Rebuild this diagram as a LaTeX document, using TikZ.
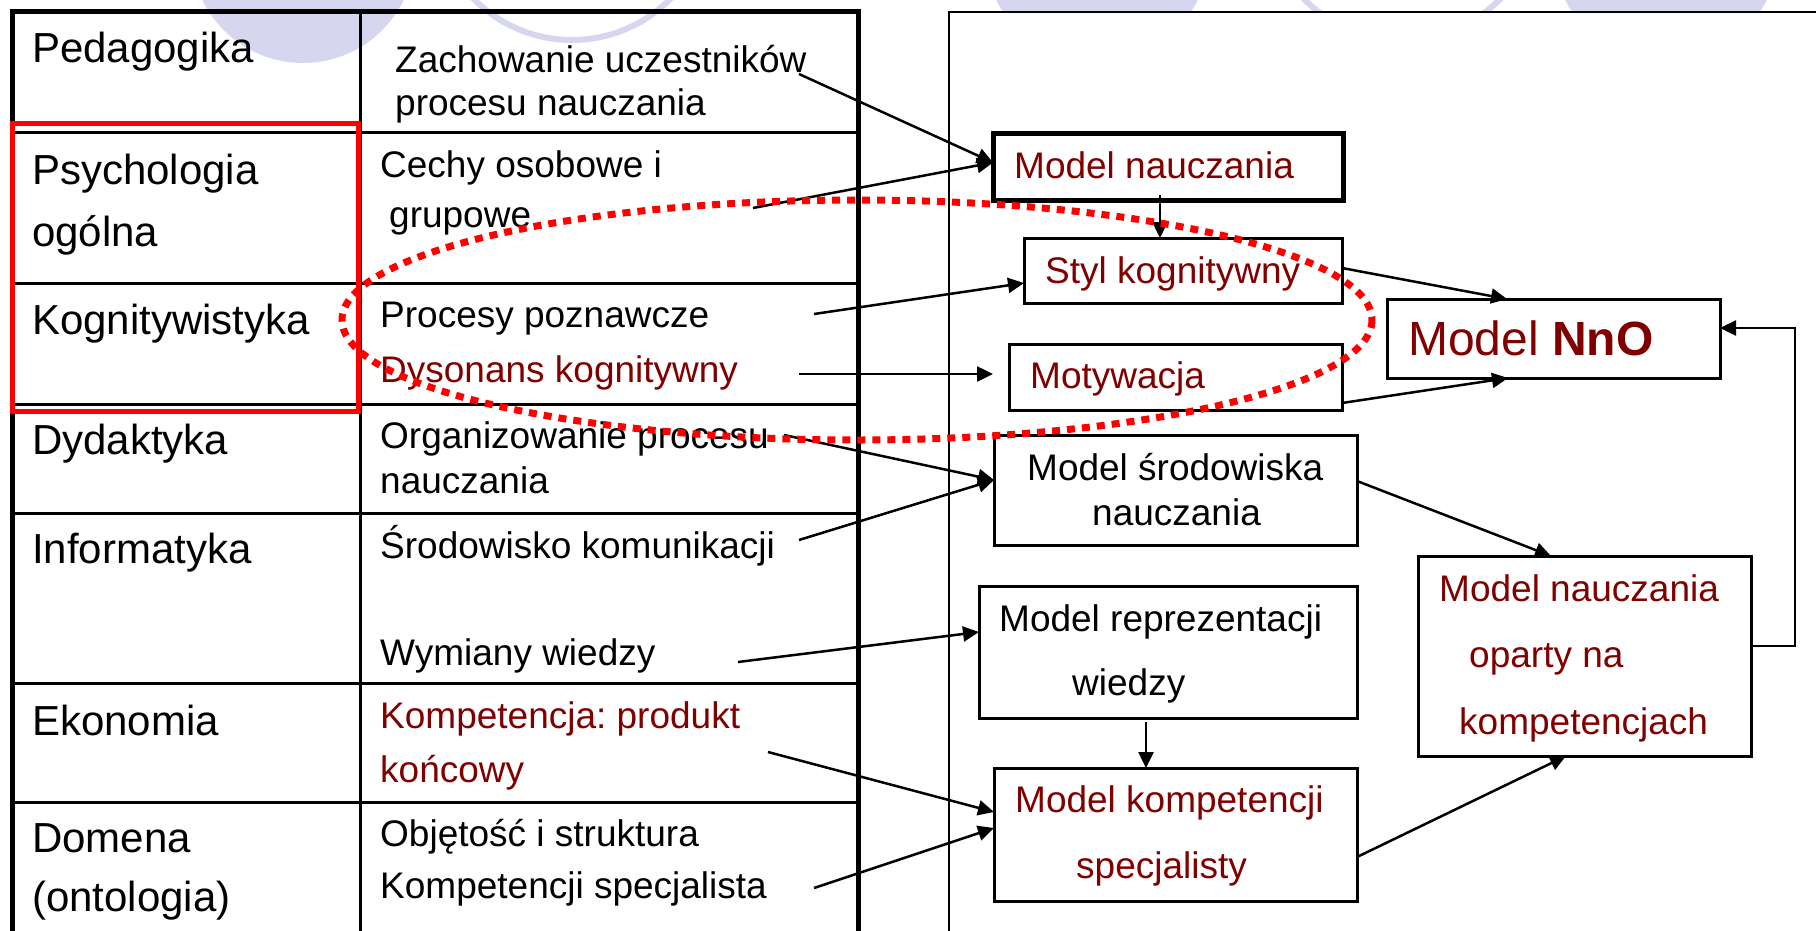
\documentclass[tikz,border=0pt]{standalone}
\usepackage{fontspec}
\setmainfont{Liberation Sans}
\usetikzlibrary{arrows.meta,calc}
\definecolor{lav}{RGB}{214,214,238}
\definecolor{txtred}{RGB}{128,0,0}
\frenchspacing
\begin{document}
\begin{tikzpicture}[x=1pt,y=-1pt,
  lbl/.style={anchor=base west, inner sep=0pt, font=\fontsize{42}{50}\selectfont},
  cell/.style={anchor=base west, inner sep=0pt, font=\fontsize{37}{44}\selectfont},
  mbox/.style={draw, line width=3pt, fill=white, anchor=north west, inner sep=0pt, outer sep=0pt},
  arr/.style={line width=2.5pt, -{Triangle[length=16pt,width=15pt]}},
  thin/.style={line width=3pt},
  thick/.style={line width=5pt}]
\useasboundingbox (0,0) rectangle (1816,930);
\clip (0,0) rectangle (1816,930);

% decorative circles along the top edge
\fill[lav] (303,-49) circle [radius=112];
\fill[lav] (1097,-49) circle [radius=112];
\fill[lav] (1666,-49) circle [radius=112];
\draw[lav, line width=6pt] (572,-98) circle [radius=138];
\draw[lav, line width=6pt] (1402,-98) circle [radius=138];

% table of disciplines
\draw[thick] (12,950) -- (12,11.5) -- (858,11.5) -- (858,950);
\draw[thin] (360,11.5) -- (360,950);
\foreach \yy in {132,283,404,513,683,802}
  \draw[thin] (12,\yy) -- (858,\yy);
\draw[red, line width=5pt] (12,123) rectangle (358,411);

% left column
\node[lbl] (t1) at (32,62) {Pedagogika};
\node[lbl] (t2a) at (32,184) {Psychologia};
\node[lbl] (t2b) at (32,246) {ogólna};
\node[lbl] (t3) at (32,334) {Kognitywistyka};
\node[lbl] (t4) at (32,454) {Dydaktyka};
\node[lbl] (t5) at (32,563) {Informatyka};
\node[lbl] (t6) at (32,735) {Ekonomia};
\node[lbl] (t7a) at (32,852) {Domena};
\node[lbl] (t7b) at (32,911) {(ontologia)};

% right column
\node[cell] (c1a) at (395,72) {Zachowanie uczestników};
\node[cell] (c1b) at (395,115) {procesu nauczania};
\node[cell] (c2a) at (380,177) {Cechy osobowe i};
\node[cell] (c2b) at (389,227) {grupowe};
\node[cell] (c3a) at (380,327) {Procesy poznawcze};
\node[cell, text=txtred] (c3b) at (380,382) {Dysonans kognitywny};
\node[cell] (c4a) at (380,448) {Organizowanie procesu};
\node[cell] (c4b) at (380,493) {nauczania};
\node[cell] (c5a) at (380,558) {Środowisko komunikacji};
\node[cell] (c5b) at (380,665) {Wymiany wiedzy};
\node[cell, text=txtred] (c6a) at (380,728) {Kompetencja: produkt};
\node[cell, text=txtred] (c6b) at (380,782) {końcowy};
\node[cell] (c7a) at (380,846) {Objętość i struktura};
\node[cell] (c7b) at (380,898) {Kompetencji specjalista};

% model panel
\fill[white] (949,12) rectangle (1830,950);
\draw[line width=2.5pt] (949,950) -- (949,12) -- (1830,12);

\node[mbox, line width=5pt, minimum width=350pt, minimum height=67pt] (mn) at (993,133) {};
\node[mbox, minimum width=318pt, minimum height=65pt] (styl) at (1024,238) {};
\node[mbox, minimum width=333pt, minimum height=66pt] (motyw) at (1009,344) {};
\node[mbox, minimum width=333pt, minimum height=79pt] (nno) at (1387,299) {};
\node[mbox, minimum width=363pt, minimum height=110pt] (srod) at (994,435) {};
\node[mbox, minimum width=378pt, minimum height=132pt] (repr) at (979,586) {};
\node[mbox, minimum width=363pt, minimum height=133pt] (komp) at (994,768) {};
\node[mbox, minimum width=333pt, minimum height=200pt] (oparty) at (1418,556) {};

\node[cell, text=txtred] (mnT) at (1014,178) {Model nauczania};
\node[cell, text=txtred] (stylT) at (1045,283) {Styl kognitywny};
\node[cell, text=txtred] (motywT) at (1030,388) {Motywacja};
\node[anchor=base west, inner sep=0pt, font=\fontsize{48}{56}\selectfont, text=txtred] (nnoT) at (1408,355) {Model \textbf{NnO}};
\node[cell] (srodTa) at (1027,480) {Model środowiska};
\node[cell] (srodTb) at (1092,525) {nauczania};
\node[cell] (reprTa) at (999,631) {Model reprezentacji};
\node[cell] (reprTb) at (1072,695) {wiedzy};
\node[cell, text=txtred] (kompTa) at (1015,812) {Model kompetencji};
\node[cell, text=txtred] (kompTb) at (1076,878) {specjalisty};
\node[cell, text=txtred] (opTa) at (1439,601) {Model nauczania};
\node[cell, text=txtred] (opTb) at (1469,667) {oparty na};
\node[cell, text=txtred] (opTc) at (1459,734) {kompetencjach};

% connector starts inside the table
\coordinate (s1) at (799,74);
\coordinate (s2) at (753,208);
\coordinate (s3) at (814,314);
\coordinate (s4) at (799,374);
\coordinate (s5) at (784,435);
\coordinate (s6) at (799,540);
\coordinate (s7) at (738,662);
\coordinate (s8) at (768,752);
\coordinate (s9) at (814,888);

\draw[arr] (s1) -- ($(mn.west)+(0,-4)$);
\draw[arr] (s2) -- ($(mn.west)+(0,-4)$);
\draw[arr] (s3) -- ($(styl.west)+(0,12.5)$);
\draw[arr] (s4) -- ($(motyw.west)+(-16,-3)$);
\draw[arr] (s5) -- ($(srod.west)+(0,-10)$);
\draw[arr] (s6) -- ($(srod.west)+(0,-10)$);
\draw[arr] (s7) -- ($(repr.west)+(0,-20)$);
\draw[arr] (s8) -- ($(komp.west)+(0,-22.5)$);
\draw[arr] (s9) -- ($(komp.west)+(0,-6.5)$);

% links between models
\coordinate (mnout) at (1160,195);
\draw[arr] (mnout) -- (mnout |- styl.north);
\coordinate (reprout) at (1146,722);
\draw[arr] (reprout) -- (reprout |- komp.north);
\draw[arr] ($(styl.east)+(0,-2.5)$) -- ($(nno.north west)+(120,0)$);
\draw[arr] ($(motyw.south east)+(0,-7)$) -- ($(nno.south west)+(121,0)$);
\draw[arr] ($(srod.east)+(0,-9)$) -- ($(oparty.north west)+(133,0)$);
\draw[arr] ($(komp.east)+(0,22.5)$) -- ($(oparty.south west)+(148,0)$);

% feedback to Model NnO
\coordinate (fbs) at ($(oparty.east)+(0,-10)$);
\coordinate (fbe) at ($(nno.east)+(0,-10.5)$);
\coordinate (fbx) at (1795,0);
\draw[arr] (fbs) -- (fbs -| fbx) -- (fbx |- fbe) -- (fbe);

% dotted ellipse over the cognitive group
\draw[red, line width=7pt, dash pattern=on 8pt off 7pt] (857,320) ellipse [x radius=515, y radius=120];
\end{tikzpicture}
\end{document}
